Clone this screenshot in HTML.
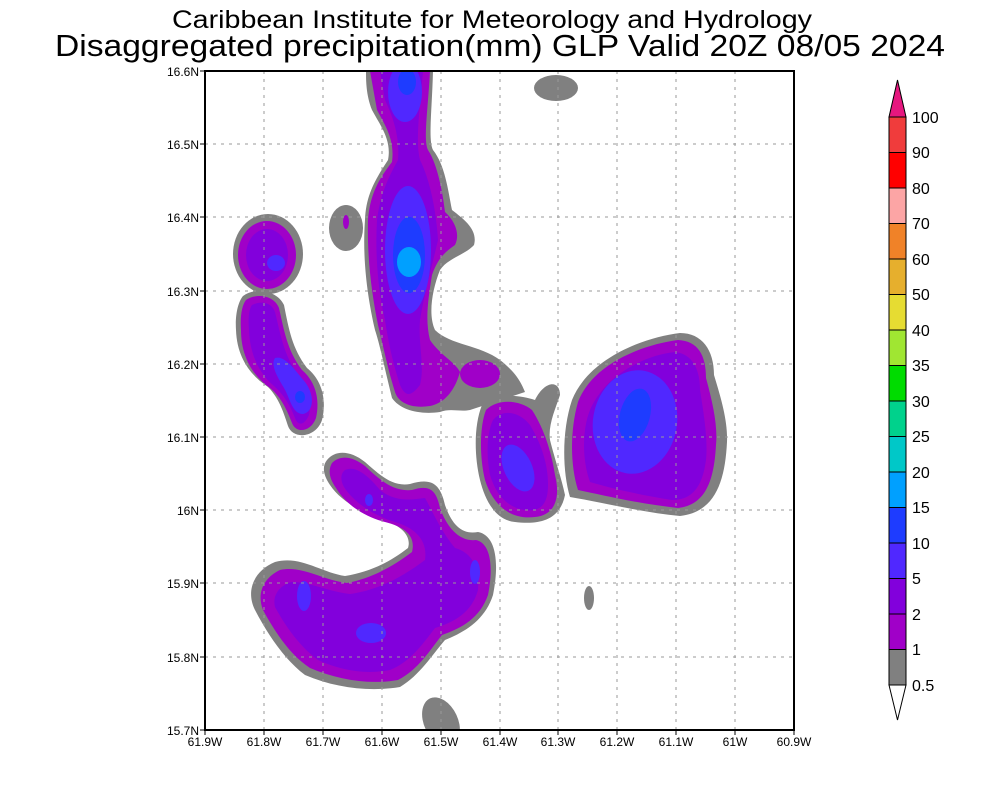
<!DOCTYPE html>
<html><head><meta charset="utf-8"><style>body{margin:0;background:#fff}svg{display:block}text{font-family:"Liberation Sans",sans-serif}</style></head><body>
<svg width="1000" height="800" viewBox="0 0 1000 800" xmlns="http://www.w3.org/2000/svg">
<defs><clipPath id="c"><rect x="205" y="71" width="589" height="659"/></clipPath></defs>
<text x="492" y="28" font-size="25" text-anchor="middle" textLength="640" lengthAdjust="spacingAndGlyphs">Caribbean Institute for Meteorology and Hydrology</text>
<text x="500" y="56" font-size="31" text-anchor="middle" textLength="890" lengthAdjust="spacingAndGlyphs">Disaggregated precipitation(mm) GLP Valid 20Z 08/05 2024</text>
<g clip-path="url(#c)">
<g fill="#808080">
<path d="M366,71 L433,71 C432,110 428,140 433,150 C445,165 448,190 452,210 C465,220 478,230 474,245 C465,255 448,258 440,270 C432,290 428,315 435,330 C450,345 480,345 500,360 C515,372 520,380 525,392 L470,410 C460,412 450,408 440,412 C420,415 400,410 392,398 C385,370 380,345 375,330 C368,300 362,260 365,220 C366,195 375,180 388,160 C392,140 380,125 372,110 C366,95 366,80 366,71 Z"/>
<ellipse cx="268" cy="254" rx="35" ry="40"/>
<path d="M243,296 C255,287 277,290 284,305 C289,330 292,348 307,368 C322,380 327,400 322,420 C316,438 293,440 288,426 C283,410 278,397 268,387 C253,377 237,360 236,330 C235,315 238,302 243,296 Z"/>
<ellipse cx="346" cy="228" rx="17" ry="23"/>
<ellipse cx="556" cy="88" rx="22" ry="13"/>
<path d="M482,405 C495,392 520,395 535,400 C545,380 560,380 560,395 C555,410 548,425 550,440 C555,460 562,480 565,495 C560,520 540,525 515,522 C495,520 485,500 480,480 C474,455 474,425 482,405 Z"/>
<path d="M572,400 C588,360 640,338 680,333 C702,333 714,350 714,375 C720,395 728,420 727,442 C725,482 715,512 680,516 C640,512 600,502 570,497 C562,470 562,430 572,400 Z"/>
<path d="M327,460 C335,450 350,450 365,462 C380,475 392,487 410,484 C430,478 440,482 445,505 C452,525 462,535 478,532 C495,535 500,560 493,595 C485,620 465,632 445,640 C432,655 420,675 400,687 C370,692 335,688 305,675 C285,660 268,635 255,610 C245,590 255,570 275,562 C300,555 320,572 345,576 C370,572 390,562 408,548 C412,535 400,525 380,518 C360,512 340,500 330,485 C323,475 322,466 327,460 Z"/>
<ellipse cx="441" cy="722" rx="17" ry="26" transform="rotate(-25 441 722)"/>
<ellipse cx="589" cy="598" rx="5" ry="12"/>
</g>
<g fill="#a000c8">
<path d="M370,71 L430,71 C428,110 423,140 428,150 C438,165 443,195 445,212 C456,222 460,235 455,245 C445,252 438,258 432,275 C428,300 425,320 430,340 C440,355 455,362 460,372 C455,390 445,403 430,406 C410,409 398,402 395,392 C388,370 383,345 378,325 C372,295 367,260 368,220 C370,195 378,180 392,162 C395,140 385,125 377,110 Z"/>
<ellipse cx="480" cy="374" rx="20" ry="14"/>
<ellipse cx="267" cy="255" rx="29" ry="34"/>
<path d="M246,300 C256,293 274,295 279,308 C284,330 287,350 302,370 C316,382 320,400 316,418 C311,432 296,434 292,423 C287,410 281,397 270,388 C256,378 241,360 241,330 C240,316 242,305 246,300 Z"/>
<ellipse cx="346" cy="222" rx="3" ry="7"/>
<path d="M486,410 C498,398 520,400 532,410 C545,430 552,455 555,475 C560,495 557,515 535,517 C510,520 493,505 485,480 C479,455 480,425 486,410 Z"/>
<path d="M578,402 C592,365 640,345 678,340 C698,341 706,355 706,378 C712,400 718,425 716,445 C714,482 705,505 678,508 C640,504 602,495 578,490 C570,465 570,430 578,402 Z"/>
<path d="M332,463 C340,455 352,456 365,466 C380,480 393,492 412,490 C428,485 436,488 440,508 C447,528 460,542 476,540 C490,543 494,565 488,595 C480,618 462,628 442,635 C430,650 418,670 398,680 C370,685 338,680 310,668 C290,655 275,632 263,610 C256,592 265,577 280,570 C302,565 322,580 347,583 C372,578 392,567 412,552 C416,536 405,527 385,522 C362,516 345,503 336,488 C329,478 328,470 332,463 Z"/>
</g>
<g fill="#8200dc">
<path d="M380,71 L423,71 C420,110 415,140 420,160 C430,180 436,210 438,240 C433,262 425,290 420,320 C418,345 425,365 420,385 C410,398 405,396 400,385 C392,360 388,340 385,320 C378,290 375,255 377,220 C380,195 388,178 398,160 C400,135 392,115 385,100 Z"/>
<ellipse cx="267" cy="255" rx="21" ry="26"/>
<path d="M252,305 C262,300 272,303 275,312 C280,332 283,352 296,372 C308,385 312,400 309,415 C304,426 298,426 295,418 C290,405 284,395 274,386 C262,376 250,358 249,330 C248,318 249,309 252,305 Z"/>
<path d="M493,420 C503,408 520,412 530,425 C542,445 548,465 548,485 C548,505 540,512 525,510 C508,508 496,495 490,475 C486,455 487,432 493,420 Z"/>
<path d="M590,410 C605,375 645,355 675,352 C693,354 700,370 700,390 C704,415 708,440 706,460 C702,490 690,500 672,500 C640,495 610,488 590,482 C582,460 582,430 590,410 Z"/>
<path d="M345,470 C355,465 368,475 380,490 C395,502 410,500 425,498 C432,510 440,530 455,548 C470,552 480,565 478,590 C472,612 455,622 435,628 C422,645 410,662 390,670 C365,675 340,670 318,660 C298,645 285,625 275,607 C272,595 280,585 292,582 C310,582 330,592 350,594 C380,590 405,575 425,560 C428,540 415,528 395,522 C372,515 355,502 346,490 C340,482 340,474 345,470 Z"/>
</g>
<g fill="#5028ff">
<ellipse cx="405" cy="92" rx="17" ry="30"/>
<ellipse cx="408" cy="250" rx="23" ry="64"/>
<ellipse cx="276" cy="263" rx="9" ry="8"/>
<path d="M275,358 C285,355 295,370 305,382 C315,395 314,412 303,414 C292,414 290,398 284,388 C278,378 270,365 275,358 Z"/>
<ellipse cx="518" cy="468" rx="14" ry="25" transform="rotate(-25 518 468)"/>
<ellipse cx="635" cy="422" rx="42" ry="52" transform="rotate(10 635 422)"/>
<ellipse cx="304" cy="596" rx="7" ry="15"/>
<ellipse cx="371" cy="633" rx="15" ry="10"/>
<ellipse cx="369" cy="500" rx="4" ry="6"/>
<ellipse cx="475" cy="572" rx="5" ry="12"/>
</g>
<g fill="#1e3cff">
<ellipse cx="407" cy="82" rx="9" ry="13"/>
<ellipse cx="409" cy="255" rx="16" ry="38"/>
<ellipse cx="300" cy="397" rx="5" ry="6"/>
<ellipse cx="635" cy="415" rx="15" ry="27" transform="rotate(15 635 415)"/>
</g>
<ellipse cx="409" cy="262" rx="12" ry="15" fill="#00a0ff"/>
<g stroke="#9a9a9a" stroke-width="1" stroke-dasharray="3,5" fill="none">
<path d="M264,71V730M323,71V730M382,71V730M441,71V730M500,71V730M558,71V730M617,71V730M676,71V730M735,71V730"/>
<path d="M205,144H794M205,217H794M205,291H794M205,364H794M205,437H794M205,510H794M205,583H794M205,657H794"/>
</g>
</g>
<rect x="205" y="71" width="589" height="659" fill="none" stroke="#000" stroke-width="2"/>
<g stroke="#000" stroke-width="1">
<path d="M200,71H205M200,144H205M200,217H205M200,291H205M200,364H205M200,437H205M200,510H205M200,583H205M200,657H205M200,730H205"/>
<path d="M205,730V735M264,730V735M323,730V735M382,730V735M441,730V735M500,730V735M558,730V735M617,730V735M676,730V735M735,730V735M794,730V735"/>
</g>
<g font-size="12" text-anchor="end">
<text x="199" y="76">16.6N</text><text x="199" y="149">16.5N</text><text x="199" y="222">16.4N</text><text x="199" y="296">16.3N</text><text x="199" y="369">16.2N</text><text x="199" y="442">16.1N</text><text x="199" y="515">16N</text><text x="199" y="588">15.9N</text><text x="199" y="662">15.8N</text><text x="199" y="735">15.7N</text>
</g>
<g font-size="12" text-anchor="middle">
<text x="205" y="746">61.9W</text><text x="264" y="746">61.8W</text><text x="323" y="746">61.7W</text><text x="382" y="746">61.6W</text><text x="441" y="746">61.5W</text><text x="500" y="746">61.4W</text><text x="558" y="746">61.3W</text><text x="617" y="746">61.2W</text><text x="676" y="746">61.1W</text><text x="735" y="746">61W</text><text x="794" y="746">60.9W</text>
</g>
<g stroke="#000" stroke-width="1">
<polygon points="889,117 906,117 897.5,80" fill="#e6177f"/>
<rect x="889" y="117" width="17" height="35.5" fill="#f03c3c"/>
<rect x="889" y="152.5" width="17" height="35.5" fill="#ff0000"/>
<rect x="889" y="188" width="17" height="35.5" fill="#fca5a5"/>
<rect x="889" y="223.5" width="17" height="35.5" fill="#f08228"/>
<rect x="889" y="259" width="17" height="35.5" fill="#e6af2d"/>
<rect x="889" y="294.5" width="17" height="35.5" fill="#e6dc32"/>
<rect x="889" y="330" width="17" height="35.5" fill="#a0e632"/>
<rect x="889" y="365.5" width="17" height="35.5" fill="#00dc00"/>
<rect x="889" y="401" width="17" height="35.5" fill="#00d28c"/>
<rect x="889" y="436.5" width="17" height="35.5" fill="#00c8c8"/>
<rect x="889" y="472" width="17" height="35.5" fill="#00a0ff"/>
<rect x="889" y="507.5" width="17" height="35.5" fill="#1e3cff"/>
<rect x="889" y="543" width="17" height="35.5" fill="#5028ff"/>
<rect x="889" y="578.5" width="17" height="35.5" fill="#8200dc"/>
<rect x="889" y="614" width="17" height="35.5" fill="#a000c8"/>
<rect x="889" y="649.5" width="17" height="35.5" fill="#808080"/>
<polygon points="889,685 906,685 897.5,720" fill="#fff"/>
</g>
<g font-size="16">
<text x="912" y="123">100</text><text x="912" y="158">90</text><text x="912" y="194">80</text><text x="912" y="229">70</text><text x="912" y="265">60</text><text x="912" y="300">50</text><text x="912" y="336">40</text><text x="912" y="371">35</text><text x="912" y="407">30</text><text x="912" y="442">25</text><text x="912" y="478">20</text><text x="912" y="513">15</text><text x="912" y="549">10</text><text x="912" y="584">5</text><text x="912" y="620">2</text><text x="912" y="655">1</text><text x="912" y="691">0.5</text>
</g>
</svg>
</body></html>
